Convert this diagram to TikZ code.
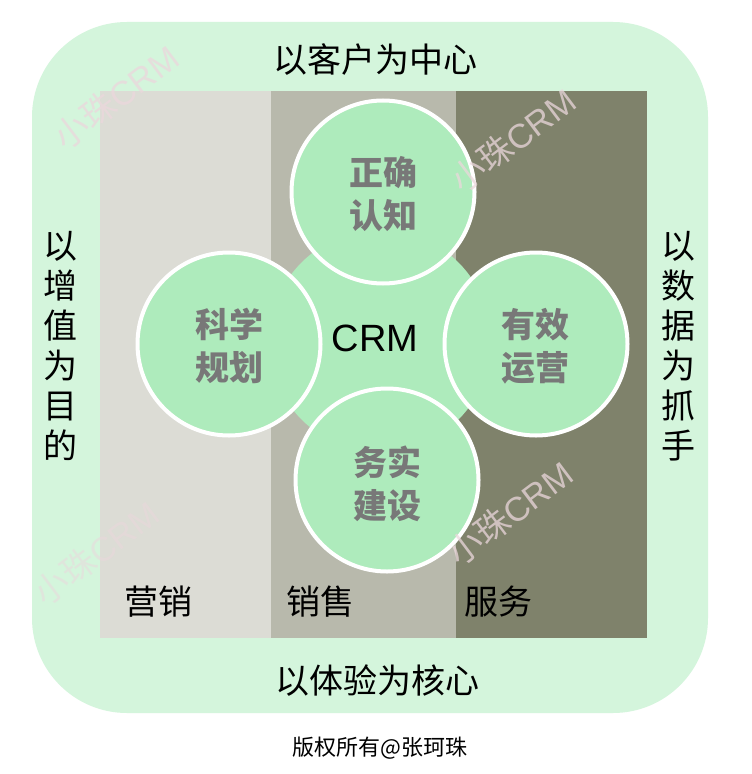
\documentclass[tikz,border=0pt]{standalone}
\usepackage{fontspec}
\setmainfont{Noto Sans CJK SC}
\newfontfamily\latinsans{Liberation Sans}
\definecolor{outergreen}{RGB}{212,245,220}
\definecolor{colA}{RGB}{220,220,213}
\definecolor{colB}{RGB}{184,185,172}
\definecolor{colC}{RGB}{127,130,107}
\definecolor{circgreen}{RGB}{174,235,188}
\definecolor{labelgray}{RGB}{120,120,120}
\definecolor{wmark}{RGB}{235,215,220}
\tikzset{
  fs/.style={font=\fontsize{#1bp}{#1bp}\selectfont},
  sat/.style={circle, fill=circgreen, draw=white, line width=4bp, minimum size=183bp, inner sep=0pt},
  satlabel/.style={text=labelgray, align=center, font=\fontsize{34bp}{43bp}\selectfont\bfseries},
  sidelabel/.style={text=black, font=\fontsize{34bp}{40bp}\selectfont},
  vertlabel/.style={text=black, align=center, font=\fontsize{34bp}{40bp}\selectfont},
  collabel/.style={text=black, font=\fontsize{34bp}{40bp}\selectfont},
  wm/.style={text=wmark, opacity=0.75, rotate=37, font=\fontsize{34bp}{34bp}\selectfont},
}
\begin{document}
\begin{tikzpicture}[x=1bp,y=-1bp]
\useasboundingbox[fill=white] (0,0) rectangle (752,774);
% outer rounded frame
\fill[outergreen, rounded corners=95bp] (32,22) rectangle (708,713);
% columns
\fill[colA] (100,91) rectangle (271,638);
\fill[colB] (271,91) rectangle (456,638);
\fill[colC] (456,91) rectangle (647,638);
% central circle
\node[circle, fill=circgreen, minimum size=222bp, inner sep=0pt] (core) at (380,341) {};
% satellite circles
\node[sat] (top) at (383,192) {};
\node[sat] (left) at (229,344) {};
\node[sat] (right) at (536,344) {};
\node[sat] (bottom) at (387,480) {};
% labels in circles
\node[satlabel] (toplab) at (383,194) {正确\\认知};
\node[satlabel] (leftlab) at (229,346) {科学\\规划};
\node[satlabel] (rightlab) at (535,346) {有效\\运营};
\node[satlabel] (bottomlab) at (387,484) {务实\\建设};
\node[font=\latinsans\fontsize{38bp}{38bp}\selectfont] (crm) at (375,338) {CRM};
% side labels
\node[sidelabel] (topside) at (375,60) {以客户为中心};
\node[sidelabel] (bottomside) at (377,681) {以体验为核心};
\node[vertlabel] (leftside) at (60,346) {以\\增\\值\\为\\目\\的};
\node[vertlabel] (rightside) at (678,346) {以\\数\\据\\为\\抓\\手};
% column labels
\node[collabel] (mkt) at (158,602) {营销};
\node[collabel] (sales) at (320,602) {销售};
\node[collabel] (service) at (498,602) {服务};
% watermarks
\node[wm] (wm1) at (116,97) {小珠{\latinsans CRM}};
\node[wm] (wm2) at (513,140) {小珠{\latinsans CRM}};
\node[wm, opacity=0.5] (wm3) at (96,553) {小珠{\latinsans CRM}};
\node[wm] (wm4) at (510,513) {小珠{\latinsans CRM}};
% copyright
\node[fs=22] (copy) at (380,748) {版权所有@张珂珠};
\end{tikzpicture}
\end{document}
